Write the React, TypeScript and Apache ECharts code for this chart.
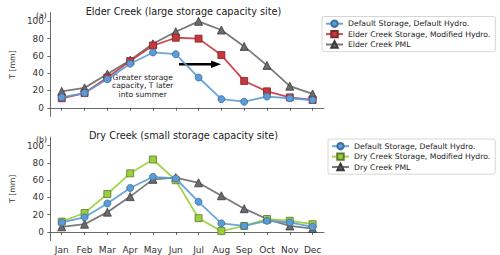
import React, { useEffect, useRef } from "react";
import * as echarts from "echarts";

const months = ["Jan", "Feb", "Mar", "Apr", "May", "Jun", "Jul", "Aug", "Sep", "Oct", "Nov", "Dec"];
const yTicks = [0, 20, 40, 60, 80, 100];

// Elder Creek (a)
const elderDefault = [12, 17, 33, 51, 64, 62, 35, 10, 7, 13, 11, 9];
const elderModified = [11, 17, 35, 54, 72, 81, 80, 61, 31, 19, 12, 9];
const elderPML = [19, 23, 39, 55, 74, 88, 100, 90, 71, 49, 25, 16];

// Dry Creek (b)
const dryDefault = [11, 17, 33, 51, 64, 62, 35, 10, 7, 13, 11, 6];
const dryModified = [12, 22, 44, 68, 84, 60, 16, 1, 7, 15, 13, 9];
const dryPML = [6, 9, 23, 41, 61, 63, 57, 42, 27, 15, 7, 4];

const BLUE = "#5b9bd6";
const RED = "#c8363f";
const GREEN = "#9bd03c";
const GRAY = "#6b6b6b";
const FONT = "'DejaVu Sans', sans-serif";

function mkSeries(name: string, data: number[], idx: number, color: string, symbol: string, size: number, border: string, z: number) {
  return {
    type: "line",
    name,
    data,
    xAxisIndex: idx,
    yAxisIndex: idx,
    symbol,
    symbolSize: size,
    z,
    lineStyle: { color, width: 1.8, opacity: 0.9 },
    itemStyle: { color, borderColor: border, borderWidth: 0.8, opacity: 1 },
    emphasis: { disabled: true },
  };
}

export default function App() {
  const ref = useRef<HTMLDivElement>(null);
  useEffect(() => {
    if (!ref.current) return;
    const chart = echarts.init(ref.current, null, { renderer: "svg" });
    const grids = [
      { left: 33, top: 12.7, width: 291, height: 103.7 },
      { left: 33, top: 137.1, width: 291, height: 103.5 },
    ];
    const xAxis = [0, 1].map((i) => ({
      type: "category",
      gridIndex: i,
      data: months,
      boundaryGap: true,
      axisLine: { lineStyle: { color: "#444", width: 0.8 } },
      axisTick: { show: true, alignWithLabel: true, interval: 0, length: 3, lineStyle: { color: "#444", width: 0.8 } },
      axisLabel: { show: i === 1, interval: 0, color: "#333", fontFamily: FONT, fontSize: 9, margin: 5 },
      splitLine: { show: false },
    }));
    const yAxis = [0, 1].map((i) => ({
      type: "value",
      gridIndex: i,
      min: -10,
      max: 110,
      name: "T [mm]",
      nameLocation: "middle",
      nameGap: 23,
      nameTextStyle: { color: "#333", fontFamily: FONT, fontSize: 7.8 },
      axisLine: { show: true, lineStyle: { color: "#444", width: 0.8 } },
      axisTick: { show: true, length: 3, customValues: yTicks, lineStyle: { color: "#444", width: 0.8 } },
      axisLabel: { color: "#333", fontFamily: FONT, fontSize: 8.9, margin: 6.5, customValues: yTicks },
      splitLine: { show: false },
    }));
    const legendBase = {
      orient: "vertical",
      left: 322,
      padding: [3, 5, 3, 3],
      itemGap: 2,
      itemWidth: 17,
      itemHeight: 8,
      borderColor: "#cccccc",
      borderWidth: 0.8,
      borderRadius: 2,
      textStyle: { color: "#222", fontFamily: FONT, fontSize: 7.7 },
      selectedMode: false,
    };
    chart.setOption({
      animation: false,
      backgroundColor: "#ffffff",
      grid: grids,
      xAxis,
      yAxis,
      title: [
        { text: "Elder Creek (large storage capacity site)", left: 178.5, top: 1.5, textAlign: "center", textStyle: { fontFamily: FONT, fontSize: 9.7, fontWeight: "normal", color: "#222" } },
        { text: "Dry Creek (small storage capacity site)", left: 178.5, top: 125.5, textAlign: "center", textStyle: { fontFamily: FONT, fontSize: 9.7, fontWeight: "normal", color: "#222" } },
      ],
      legend: [
        { ...legendBase, top: 16.5, data: ["Default Storage, Default Hydro.", "Elder Creek Storage, Modified Hydro.", "Elder Creek PML"] },
        { ...legendBase, left: 328, top: 139, data: ["Default Storage, Default Hydro. ", "Dry Creek Storage, Modified Hydro.", "Dry Creek PML"] },
      ],
      graphic: [
        { type: "text", left: 36, top: 11, style: { text: "(a)", fontFamily: FONT, fontSize: 7.7, fill: "#222" } },
        { type: "text", left: 36, top: 135, style: { text: "(b)", fontFamily: FONT, fontSize: 7.7, fill: "#222" } },
        {
          type: "text",
          x: 142.7,
          y: 72.8,
          style: { text: "Greater storage\ncapacity, T later\ninto summer", fontFamily: FONT, fontSize: 7.6, lineHeight: 8.5, fill: "#222", align: "center", verticalAlign: "top" },
        },
        { type: "line", shape: { x1: 179, y1: 64.3, x2: 213, y2: 64.3 }, style: { stroke: "#000", lineWidth: 2.5 } },
        { type: "polygon", shape: { points: [[211, 60.5], [221, 64.3], [211, 68.1]] }, style: { fill: "#000" } },
      ],
      series: [
        mkSeries("Elder Creek PML", elderPML, 0, GRAY, "triangle", 8, "#3a3a3a", 2),
        mkSeries("Elder Creek Storage, Modified Hydro.", elderModified, 0, RED, "rect", 7, "#7a2a2a", 3),
        mkSeries("Default Storage, Default Hydro.", elderDefault, 0, BLUE, "circle", 7, "#3d6d9e", 4),
        mkSeries("Dry Creek PML", dryPML, 1, GRAY, "triangle", 8, "#3a3a3a", 2),
        mkSeries("Dry Creek Storage, Modified Hydro.", dryModified, 1, GREEN, "rect", 7, "#5a7a2a", 3),
        mkSeries("Default Storage, Default Hydro. ", dryDefault, 1, BLUE, "circle", 7, "#3d6d9e", 4),
      ],
    });
    return () => chart.dispose();
  }, []);
  return <div ref={ref} style={{ position: "fixed", left: 0, top: 0, width: 500, height: 255 }} />;
}
